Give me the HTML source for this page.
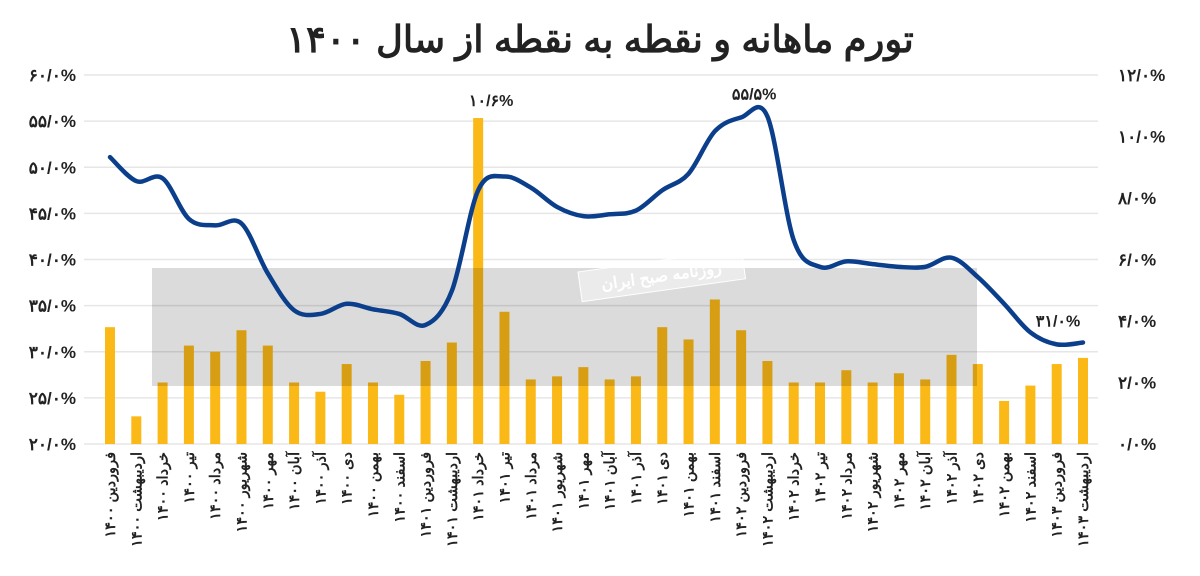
<!DOCTYPE html>
<html><head><meta charset="utf-8">
<style>
body{margin:0;background:#fff;width:1200px;height:576px;overflow:hidden}
svg{display:block}
text{font-family:"Liberation Sans","Noto Sans CJK SC",sans-serif;font-weight:bold;fill:#222}
</style></head>
<body>
<svg id="chart" width="1200" height="576">
<text x="600" y="52" text-anchor="middle" font-size="37">تورم ماهانه و نقطه به نقطه از سال ۱۴۰۰</text>
<g id="grid"></g><g id="bars"></g><g id="overlay"></g><g id="line"></g><g id="labels"></g>
</svg>
<script>
const categories=["فروردین ۱۴۰۰","اردیبهشت ۱۴۰۰","خرداد ۱۴۰۰","تیر ۱۴۰۰","مرداد ۱۴۰۰","شهریور ۱۴۰۰","مهر ۱۴۰۰","آبان ۱۴۰۰","آذر ۱۴۰۰","دی ۱۴۰۰","بهمن ۱۴۰۰","اسفند ۱۴۰۰","فروردین ۱۴۰۱","اردیبهشت ۱۴۰۱","خرداد ۱۴۰۱","تیر ۱۴۰۱","مرداد ۱۴۰۱","شهریور ۱۴۰۱","مهر ۱۴۰۱","آبان ۱۴۰۱","آذر ۱۴۰۱","دی ۱۴۰۱","بهمن ۱۴۰۱","اسفند ۱۴۰۱","فروردین ۱۴۰۲","اردیبهشت ۱۴۰۲","خرداد ۱۴۰۲","تیر ۱۴۰۲","مرداد ۱۴۰۲","شهریور ۱۴۰۲","مهر ۱۴۰۲","آبان ۱۴۰۲","آذر ۱۴۰۲","دی ۱۴۰۲","بهمن ۱۴۰۲","اسفند ۱۴۰۲","فروردین ۱۴۰۳","اردیبهشت ۱۴۰۳"];
const monthly=[3.8,0.9,2.0,3.2,3.0,3.7,3.2,2.0,1.7,2.6,2.0,1.6,2.7,3.3,10.6,4.3,2.1,2.2,2.5,2.1,2.2,3.8,3.4,4.7,3.7,2.7,2.0,2.0,2.4,2.0,2.3,2.1,2.9,2.6,1.4,1.9,2.6,2.8];
const pointToPoint=[51.1,48.5,48.8,44.4,43.7,43.9,38.5,34.5,34.1,35.2,34.6,34.1,32.9,36.6,47.5,49.0,47.8,45.7,44.7,44.9,45.3,47.5,49.3,53.9,55.4,55.5,42.1,39.2,39.8,39.5,39.2,39.2,40.2,38.1,35.2,32.1,30.8,31.0];
const leftTicks=[20,25,30,35,40,45,50,55,60];
const rightTicks=[0,2,4,6,8,10,12];
const annotations=[{series:"bar",i:14,text:"۱۰/۶%"},{series:"line",i:24,text:"۵۵/۵%"},{series:"line",i:37,text:"۳۱/۰%"}];

const NS="http://www.w3.org/2000/svg";
const yTop=75,yBot=444,x0=110,x1=1083;
const yL=v=>yBot-(v-20)/40*(yBot-yTop);
const yR=v=>yBot-v/12*(yBot-yTop);
const xS=i=>x0+i*(x1-x0)/(categories.length-1);
const fa=s=>String(s).replace(/\d/g,d=>"۰۱۲۳۴۵۶۷۸۹"[d]);
function mk(tag,attrs,parent,txt){const e=document.createElementNS(NS,tag);for(const k in attrs)e.setAttribute(k,attrs[k]);if(txt!=null)e.textContent=txt;document.getElementById(parent).appendChild(e);return e;}

leftTicks.forEach(t=>{
  const l=mk("line",{x1:84,x2:1098,y1:yL(t),y2:yL(t),stroke:"#e6e6e6","stroke-width":1.5},"grid");
  
  
  const tx=mk("text",{x:76,y:yL(t)+6,"text-anchor":"end","font-size":17},"grid",fa(t)+"/۰%");
  
  
});
rightTicks.forEach(t=>{
  const tx=mk("text",{x:1118,y:yR(t)+6,"text-anchor":"start","font-size":17},"grid",fa(t)+"/۰%");
  
  
});
monthly.forEach((v,i)=>{
  const b=mk("rect",{x:xS(i)-5,y:yR(v),width:10,height:yBot-yR(v),fill:"#fbb917"},"bars");
  
  
});
categories.forEach((c,i)=>{
  const t=mk("text",{x:0,y:0,"text-anchor":"end","font-size":14.5,transform:`translate(${xS(i)+5},452) rotate(-90)`},"labels",c);
  
  
});
const wm=mk("rect",{x:152,y:268,width:825,height:118,fill:"rgba(0,0,0,0.14)"},"overlay");


const wl=mk("g",{transform:"translate(578,272) rotate(-8)"},"overlay");


const wr=document.createElementNS(NS,"rect");wr.setAttribute("x",0);wr.setAttribute("y",0);wr.setAttribute("width",165);wr.setAttribute("height",30);wr.setAttribute("fill","rgba(255,255,255,0.45)");wr.setAttribute("stroke","#fff");wl.appendChild(wr);
const wt=document.createElementNS(NS,"text");wt.setAttribute("x",82);wt.setAttribute("y",21);wt.setAttribute("text-anchor","middle");wt.setAttribute("font-size",16);wt.setAttribute("style","fill:#fff");wt.textContent="روزنامه صبح ایران";wl.appendChild(wt);

const pts=pointToPoint.map((v,i)=>[xS(i),yL(v)]);
let d=`M${pts[0][0]},${pts[0][1]}`;
for(let i=0;i<pts.length-1;i++){
  const p0=pts[Math.max(i-1,0)],p1=pts[i],p2=pts[i+1],p3=pts[Math.min(i+2,pts.length-1)];
  const c1=[p1[0]+(p2[0]-p0[0])/6,p1[1]+(p2[1]-p0[1])/6];
  const c2=[p2[0]-(p3[0]-p1[0])/6,p2[1]-(p3[1]-p1[1])/6];
  d+=` C${c1[0]},${c1[1]} ${c2[0]},${c2[1]} ${p2[0]},${p2[1]}`;
}
const ln=mk("path",{d:d,fill:"none",stroke:"#0b3f8c","stroke-width":4.5,"stroke-linecap":"round"},"line");


annotations.forEach(a=>{
  const x=xS(a.i), y=a.series==="bar"?yR(monthly[a.i])-12:(a.i===37?yL(pointToPoint[a.i])-16:yL(pointToPoint[a.i])-18);
  const t=mk("text",{x:a.i===37?x-25:x+13,y:y,"text-anchor":"middle","font-size":16},"labels",a.text);
  
  
});
</script>
</body></html>
